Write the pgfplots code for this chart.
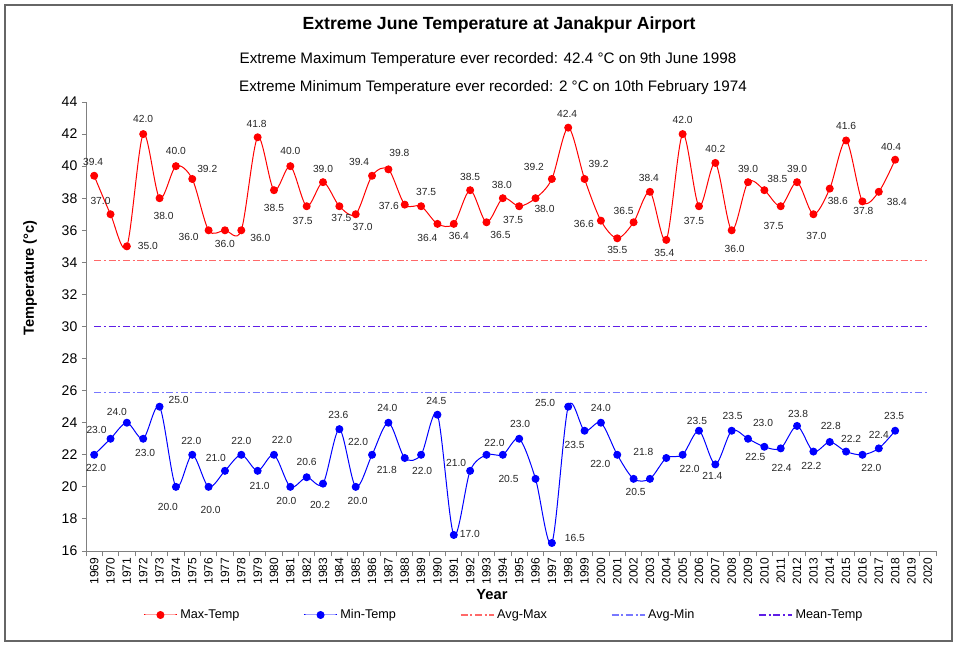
\documentclass[border=0pt]{standalone}
\usepackage{fontspec}
\setmainfont{Liberation Sans}
\usepackage{pgfplots}
\pgfplotsset{compat=1.18}
\usepackage{pgfplotstable}
\definecolor{maxc}{RGB}{255,0,0}
\definecolor{minc}{RGB}{0,0,255}
\definecolor{avgmax}{RGB}{255,105,105}
\definecolor{avgmin}{RGB}{120,120,255}
\definecolor{meanc}{RGB}{95,30,230}
\definecolor{axgray}{RGB}{128,128,128}

\pgfplotstableread{
x y dx dy o
0 39.4 -1 14 1
1 37.0 -10 13 1
2 35.0 21 0 1
3 42.0 0 15 1
4 38.0 4 -18 1
5 40.0 0 15 1
6 39.2 15 10 1
7 36.0 -20 -7 1
8 36.0 0 -14 1
9 36.0 19 -8 1
10 41.8 -1 13 1
11 38.5 0 -18 1
12 40.0 0 15 1
13 37.5 -4 -15 1
14 39.0 0 13 1
15 37.5 2 -12 1
16 37.0 7 -13 1
17 39.4 -13 14 1
18 39.8 11 16 1
19 37.6 -16 -1 1
20 37.5 5 14 1
21 36.4 -10 -14 1
22 36.4 5 -12 1
23 38.5 0 13 1
24 36.5 14 -13 1
25 38.0 -1 13 1
26 37.5 -6 -14 1
27 38.0 9 -11 1
28 39.2 -18 12 1
29 42.4 -1 14 1
30 39.2 14 15 1
31 36.6 -17 -3 1
32 35.5 0 -12 1
33 36.5 -10 11 1
34 38.4 -1 14 1
35 35.4 -2 -13 1
36 42.0 0 14 1
37 37.5 -5 -15 1
38 40.2 0 14 1
39 36.0 3 -19 1
40 39.0 0 13 1
41 38.5 13 11 1
42 37.5 -7 -20 1
43 39.0 0 13 1
44 37.0 3 -22 1
45 38.6 8 -12 1
46 41.6 0 15 1
47 37.8 1 -10 1
48 38.4 18 -10 1
49 40.4 -4 13 1
}\maxdata

\pgfplotstableread{
x y dx dy o
0 22.0 2 -13 1
1 23.0 -14 9 1
2 24.0 -10 11 1
3 23.0 2 -14 1
4 25.0 19 7 1
5 20.0 -8 -20 1
6 22.0 -1 14 1
7 20.0 2 -23 1
8 21.0 -9 13 1
9 22.0 0 14 1
10 21.0 2 -15 1
11 22.0 8 15 1
12 20.0 -4 -14 1
13 20.6 0 15 1
14 20.2 -3 -21 1
15 23.6 -1 14 1
16 20.0 2 -14 1
17 22.0 -14 13 1
18 24.0 -1 15 1
19 21.8 -18 -12 1
20 22.0 1 -16 1
21 24.5 -1 14 1
22 17.0 16 1 1
23 21.0 -14 8 1
24 22.0 8 12 1
25 22.0 0 14 0
26 23.0 1 15 1
27 20.5 -27 0 1
28 16.5 23 5 1
29 25.0 -23 4 1
30 23.5 -10 -14 1
31 24.0 0 15 1
32 22.0 -17 -9 1
33 20.5 2 -13 1
34 20.5 0 -13 0
35 21.8 -23 6 1
36 22.0 7 -14 1
37 23.5 -2 10 1
38 21.4 -3 -12 1
39 23.5 1 15 1
40 23.0 15 16 1
41 22.5 -9 -10 1
42 22.4 1 -20 1
43 23.8 1 12 1
44 22.2 -2 -14 1
45 22.8 1 16 1
46 22.2 5 13 1
47 22.0 9 -13 1
48 22.4 0 13 1
49 23.5 -1 15 1
}\mindata

\pgfplotsset{
  datalabels/.style={
    nodes near coords={\ifdim\myo pt>0.5pt\pgfmathprintnumber[fixed,fixed zerofill,precision=1]{\pgfplotspointmeta}\fi},
    point meta=\thisrow{y},
    visualization depends on={\thisrow{dx}\as\mydx},
    visualization depends on={\thisrow{dy}\as\mydy},
    visualization depends on={\thisrow{o}\as\myo},
    every node near coord/.append style={anchor=center, inner sep=0pt,
      xshift={(\mydx)*0.75pt}, yshift={(\mydy)*0.75pt},
      font=\fontsize{7.7}{9}\selectfont, text=black!85},
  },
}

\begin{document}
\begin{tikzpicture}
\path[use as bounding box] (0,0) rectangle (719.25pt,483pt);
\draw[black!60, line width=0.8pt] (3.75pt,2.25pt) rectangle (714pt,479.25pt);
\begin{axis}[
  at={(64.5pt,69.75pt)}, anchor=south west,
  scale only axis, width=637.5pt, height=336.75pt,
  xmin=-0.5, xmax=51.5, ymin=16, ymax=44,
  axis x line*=bottom, axis y line*=left,
  axis line style={-, axgray, line width=0.7pt},
  ytick={16,18,...,44},
  xtick={0,...,51},
  xticklabels={1969,1970,1971,1972,1973,1974,1975,1976,1977,1978,1979,1980,1981,1982,1983,1984,1985,1986,1987,1988,1989,1990,1991,1992,1993,1994,1995,1996,1997,1998,1999,2000,2001,2002,2003,2004,2005,2006,2007,2008,2009,2010,2011,2012,2013,2014,2015,2016,2017,2018,2019,2020},
  minor xtick={-0.5,0.5,...,51.5},
  major x tick style={draw=none},
  minor x tick style={draw=axgray, line width=0.7pt},
  major y tick style={draw=axgray, line width=0.7pt},
  tick align=outside, major tick length=3pt, minor tick length=4pt,
  xticklabel style={rotate=90, anchor=east, font=\fontsize{9}{10}\selectfont, inner sep=2pt},
  yticklabel style={font=\fontsize{10.5}{12}\selectfont},
  /pgf/number format/assume math mode=true,
  clip=false,
  title={Extreme June Temperature at Janakpur Airport},
  title style={at={(axis description cs:0.486,1.1537)}, anchor=center, font=\bfseries\fontsize{13.2}{15}\selectfont},
  xlabel={Year},
  xlabel style={at={(axis description cs:0.4776,-0.098)}, anchor=center, font=\bfseries\fontsize{11}{13}\selectfont},
  ylabel={Temperature (°c)},
  ylabel style={at={(axis description cs:-0.0659,0.608)}, anchor=center, font=\bfseries\fontsize{11}{13}\selectfont},
  legend columns=5,
  legend style={draw=none, fill=none, at={(axis description cs:0.492,-0.1425)}, anchor=center,
    font=\fontsize{9.5}{11}\selectfont,
    /tikz/every even column/.append style={column sep=46pt}},
  legend image code/.code={\draw[mark repeat=2,mark phase=2,#1] plot coordinates {(0pt,0pt) (12.5pt,0pt) (25pt,0pt)};},
]
\addplot[maxc, line width=0.75pt, smooth, tension=0.5, mark=*, mark size=2.6pt,
  mark options={solid, fill=maxc, draw=maxc}, datalabels] table[x=x,y=y] {\maxdata};
\addlegendentry{Max-Temp}
\addplot[minc, line width=0.75pt, smooth, tension=0.5, mark=*, mark size=2.6pt,
  mark options={solid, fill=minc, draw=minc}, datalabels] table[x=x,y=y] {\mindata};
\addlegendentry{Min-Temp}
\addplot[avgmax, line width=0.9pt, dash pattern=on 5.3pt off 2pt on 1.5pt off 2pt] coordinates {(0,34.1) (51,34.1)};
\addlegendentry{Avg-Max}
\addplot[avgmin, line width=0.9pt, dash pattern=on 5.3pt off 2pt on 1.5pt off 2pt] coordinates {(0,25.9) (51,25.9)};
\addlegendentry{Avg-Min}
\addplot[meanc, line width=0.9pt, dash pattern=on 5.3pt off 2pt on 1.5pt off 2pt] coordinates {(0,30.0) (51,30.0)};
\addlegendentry{Mean-Temp}
\end{axis}
\node[font=\fontsize{11.4}{13}\selectfont] at (366pt,438pt) {Extreme Maximum Temperature ever recorded: 42.4 °C on 9th June 1998};
\node[font=\fontsize{11.4}{13}\selectfont] at (369.75pt,417pt) {Extreme Minimum Temperature ever recorded: 2 °C on 10th February 1974};
\end{tikzpicture}
\end{document}
